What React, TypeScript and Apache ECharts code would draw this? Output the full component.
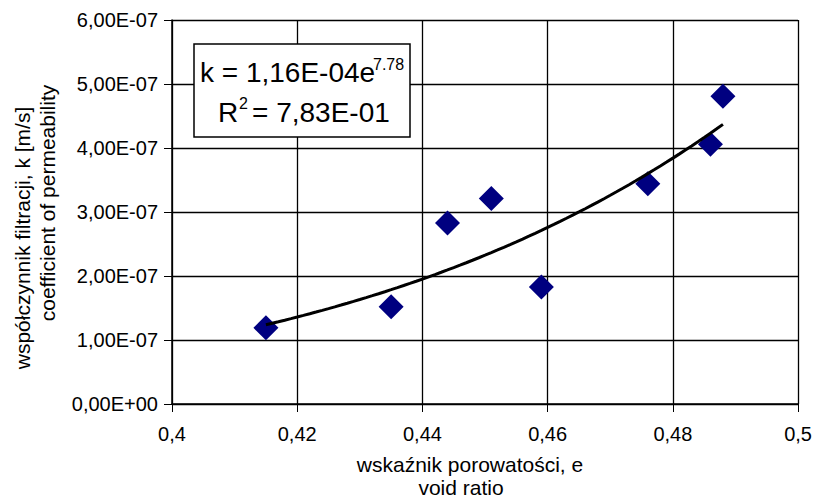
import React, { useEffect, useRef } from "react";
import * as echarts from "echarts";

// Measured points: void ratio e vs coefficient of permeability k [m/s]
const VOID_RATIO = [0.415, 0.435, 0.444, 0.451, 0.459, 0.476, 0.486, 0.488];
const PERMEABILITY = [1.19e-7, 1.52e-7, 2.83e-7, 3.21e-7, 1.83e-7, 3.44e-7, 4.06e-7, 4.81e-7];

// Power trendline shown on the chart: k = 1,16E-04 · e^7.78, R² = 0,783
const TREND_A = 1.16e-4;
const TREND_B = 7.78;
const TREND_STEP = 0.001;

const X_MIN = 0.4;
const X_MAX = 0.5;
const X_INTERVAL = 0.02;
const Y_MIN = 0;
const Y_MAX = 6e-7;
const Y_INTERVAL = 1e-7;

const EQ_LINE1 = "k = 1,16E-04e";
const EQ_EXP = "7.78";
const R2_R = "R";
const R2_SUP = "2";
const R2_VALUE = "= 7,83E-01";

const X_TITLE_1 = "wskaźnik porowatości, e";
const X_TITLE_2 = "void ratio";
const Y_TITLE_1 = "współczynnik filtracji, k [m/s]";
const Y_TITLE_2 = "coefficient of permeability";

const FONT = "Liberation Sans, Arial, sans-serif";

function fmtY(v: number): string {
  const [m, e] = v.toExponential(2).split("e");
  const sign = e[0] === "-" ? "-" : "+";
  const digits = e.replace(/^[+-]/, "").padStart(2, "0");
  return m.replace(".", ",") + "E" + sign + digits;
}

function fmtX(v: number): string {
  return String(Math.round(v * 100) / 100).replace(".", ",");
}

export default function App() {
  const ref = useRef<HTMLDivElement>(null);

  useEffect(() => {
    if (!ref.current) return;
    const chart = echarts.init(ref.current, undefined, { renderer: "svg" });

    const xs = VOID_RATIO;
    const xStart = Math.min(...xs);
    const xEnd = Math.max(...xs);
    const trend: number[][] = [];
    const n = Math.round((xEnd - xStart) / TREND_STEP);
    for (let i = 0; i <= n; i++) {
      const x = xStart + ((xEnd - xStart) * i) / n;
      trend.push([x, TREND_A * Math.pow(x, TREND_B)]);
    }

    const scatterData = VOID_RATIO.map((x, i) => [x, PERMEABILITY[i]]);

    const textStyle = (text: string, size: number, align: string = "left") => ({
      text,
      fontSize: size,
      fontFamily: FONT,
      fill: "#000",
      align,
      verticalAlign: "middle",
    });

    chart.setOption({
      animation: false,
      backgroundColor: "#ffffff",
      grid: { left: 172, right: 15, top: 20, bottom: 93, containLabel: false },
      xAxis: {
        type: "value",
        min: X_MIN,
        max: X_MAX,
        interval: X_INTERVAL,
        axisLine: { show: true, lineStyle: { color: "#000", width: 1.5 } },
        axisTick: { show: true, inside: false, length: 8, lineStyle: { color: "#000", width: 1 } },
        axisLabel: {
          margin: 20,
          fontSize: 20,
          fontFamily: FONT,
          color: "#000",
          formatter: (v: number) => fmtX(v),
          showMaxLabel: true,
          showMinLabel: true,
        },
        splitLine: { show: true, lineStyle: { color: "#000", width: 1.3 } },
      },
      yAxis: {
        type: "value",
        min: Y_MIN,
        max: Y_MAX,
        interval: Y_INTERVAL,
        axisLine: { show: true, lineStyle: { color: "#000", width: 1.5 } },
        axisTick: { show: true, inside: false, length: 8, lineStyle: { color: "#000", width: 1 } },
        axisLabel: {
          margin: 14,
          fontSize: 20,
          fontFamily: FONT,
          color: "#000",
          formatter: (v: number) => fmtY(v),
        },
        splitLine: { show: true, lineStyle: { color: "#000", width: 1.3 } },
      },
      series: [
        {
          type: "scatter",
          data: scatterData,
          symbol: "diamond",
          symbolSize: 25,
          itemStyle: { color: "#000080", opacity: 1 },
          z: 2,
        },
        {
          type: "line",
          data: trend,
          showSymbol: false,
          symbol: "none",
          smooth: false,
          lineStyle: { color: "#000", width: 3 },
          z: 3,
        },
      ],
      graphic: [
        {
          type: "rect",
          shape: { x: 194, y: 44, width: 216, height: 93 },
          style: { fill: "#fff", stroke: "#000", lineWidth: 1.5 },
          z: 100,
        },
        { type: "text", x: 200, y: 72.5, style: textStyle(EQ_LINE1, 28), z: 101 },
        { type: "text", x: 373, y: 64, style: textStyle(EQ_EXP, 16), z: 101 },
        { type: "text", x: 218, y: 112.5, style: textStyle(R2_R, 28), z: 101 },
        { type: "text", x: 239, y: 103, style: textStyle(R2_SUP, 16), z: 101 },
        { type: "text", x: 252, y: 112.5, style: textStyle(R2_VALUE, 28), z: 101 },
        { type: "text", x: 470, y: 464.5, style: textStyle(X_TITLE_1, 21, "center"), z: 101 },
        { type: "text", x: 461, y: 487, style: textStyle(X_TITLE_2, 21, "center"), z: 101 },
        {
          type: "text",
          x: 22,
          y: 238,
          rotation: Math.PI / 2,
          style: textStyle(Y_TITLE_1, 21, "center"),
          z: 101,
        },
        {
          type: "text",
          x: 47,
          y: 203,
          rotation: Math.PI / 2,
          style: textStyle(Y_TITLE_2, 21, "center"),
          z: 101,
        },
      ],
    });

    return () => chart.dispose();
  }, []);

  return (
    <div
      ref={ref}
      style={{ position: "fixed", left: 0, top: 0, width: 815, height: 497 }}
    />
  );
}
